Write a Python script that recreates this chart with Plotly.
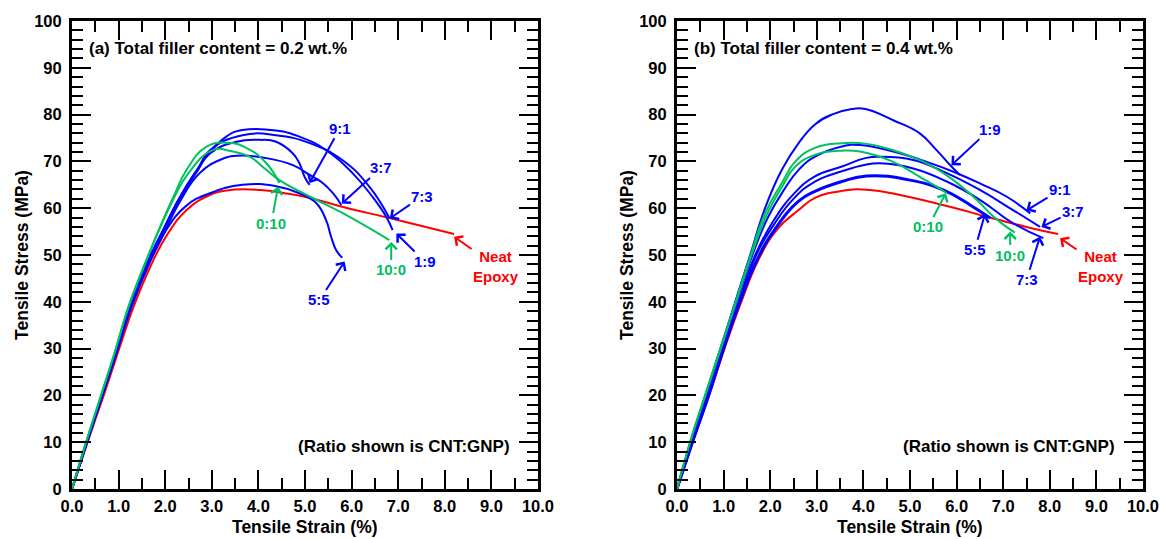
import plotly.graph_objects as go

BLUE = "#0000FF"
GREEN = "#00C060"
RED = "#FF0000"

# ---------------- Panel (a): 0.2 wt.% ----------------
a_neat_x = [0, 0.32, 0.68, 1.0, 1.32, 1.68, 2.04, 2.46, 2.89, 3.32, 4.04, 4.38, 5.1, 5.8, 6.81, 8.2]
a_neat_y = [0, 9.6, 20, 29.6, 38.9, 47.5, 54.3, 59.6, 62.5, 63.8, 63.9, 63.5, 62.2, 60.3, 57.9, 54.5]

a_55_x = [0, 0.3, 0.66, 0.98, 1.3, 1.65, 2.0, 2.45, 2.96, 3.66, 4.38, 4.88, 5.24, 5.45, 5.56, 5.67, 5.8]
a_55_y = [0, 9.8, 20.2, 30, 39.5, 48, 55, 60.5, 63.2, 65, 64.7, 63.2, 61.1, 57.5, 53.9, 51, 49.4]

a_19_x = [0, 0.31, 0.64, 0.96, 1.25, 1.54, 1.89, 2.32, 2.68, 2.88, 3.31, 3.66, 4.38, 4.88, 5.45, 6.02, 6.45, 6.74, 6.88]
a_19_y = [0, 9.7, 19.8, 29.7, 39.6, 46.8, 54, 62.5, 68.2, 71, 75.3, 76.7, 76.6, 75.3, 72.4, 67.5, 62.4, 58.2, 55.3]

a_73_x = [0, 0.31, 0.64, 0.96, 1.25, 1.54, 1.89, 2.32, 2.68, 2.96, 3.66, 4.38, 5.1, 5.8, 6.38, 6.81]
a_73_y = [0, 9.7, 19.8, 29.7, 39.6, 46.8, 54, 62.3, 67.9, 72.4, 75.6, 75.6, 73.9, 70.3, 64.6, 57.9]

a_91_x = [0, 0.31, 0.64, 0.96, 1.25, 1.54, 1.89, 2.32, 2.68, 2.96, 3.53, 4.03, 4.38, 4.74, 4.88, 5.0, 5.1]
a_91_y = [0, 9.7, 19.8, 29.7, 39.6, 46.8, 54, 62.2, 67.8, 71.7, 74.2, 74.6, 74.2, 71.7, 69.6, 66.5, 65]

a_37_x = [0, 0.31, 0.64, 0.97, 1.27, 1.57, 1.92, 2.32, 2.74, 3.17, 3.53, 4.17, 4.74, 5.1, 5.38, 5.6, 5.78]
a_37_y = [0, 9.6, 19.6, 29.5, 39.2, 46.5, 53.5, 61.5, 67.5, 70.3, 71.2, 70.7, 69.2, 67.1, 65.4, 63.2, 60.7]

a_010_x = [0, 0.29, 0.61, 0.93, 1.21, 1.54, 1.89, 2.18, 2.46, 2.88, 3.31, 3.74, 4.17, 4.45]
a_010_y = [0, 9.6, 19.6, 29.6, 38.9, 47.5, 56, 62.5, 68.2, 73.1, 74, 72.9, 69.6, 65.4]

a_100_x = [0, 0.29, 0.61, 0.93, 1.21, 1.54, 1.89, 2.18, 2.5, 3.02, 3.45, 3.81, 4.17, 4.45, 5.1, 5.8, 6.81]
a_100_y = [0, 9.6, 19.6, 29.6, 38.9, 47.5, 55.8, 62, 67.5, 72.4, 72.1, 71, 68.2, 66, 62.5, 59, 53.2]

# ---------------- Panel (b): 0.4 wt.% ----------------
b_neat_x = [0, 0.34, 0.69, 1.02, 1.38, 1.75, 2.15, 2.61, 2.96, 3.54, 4.14, 5.57, 6.79, 7.5, 8.18]
b_neat_y = [0, 10, 20, 30, 40, 49, 55.5, 59.6, 62.2, 63.7, 63.9, 61, 57.8, 56, 54.5]

b_19_x = [0, 0.29, 0.61, 0.93, 1.25, 1.57, 1.89, 2.25, 2.61, 2.96, 3.32, 3.75, 4.04, 4.64, 5.21, 5.57, 5.89, 6.07]
b_19_y = [0, 10, 20, 30, 40, 50, 60, 68.2, 73.9, 77.9, 80, 81.2, 81.2, 78.8, 76, 72.4, 68.9, 67.1]

b_100_x = [0, 0.28, 0.6, 0.93, 1.26, 1.58, 1.89, 2.25, 2.54, 2.96, 3.54, 4.04, 4.64, 5.36, 5.93, 6.43, 6.79, 7.07, 7.25]
b_100_y = [0, 10, 20, 30, 40, 50, 58.9, 65.4, 70, 72.9, 73.9, 73.8, 72.4, 69.6, 66, 61.8, 58.2, 56, 54.8]

b_010_x = [0, 0.28, 0.61, 0.94, 1.27, 1.6, 1.92, 2.25, 2.54, 2.96, 3.54, 3.93, 4.64, 5.21, 5.57, 5.79]
b_010_y = [0, 10, 20, 30, 40, 50, 58.5, 64.5, 68.9, 71.4, 72.3, 72.1, 69.9, 66.7, 64.6, 63.2]

b_91_x = [0, 0.31, 0.64, 0.96, 1.28, 1.62, 1.95, 2.3, 2.61, 2.96, 3.54, 3.93, 4.64, 5.36, 5.93, 6.5, 7.07, 7.58]
b_91_y = [0, 10, 20, 30, 40, 50, 58, 64, 68.2, 71, 73.2, 73.5, 72.1, 69.9, 67.8, 65.3, 62.5, 58.9]

b_37_x = [0, 0.32, 0.66, 0.99, 1.32, 1.68, 2.05, 2.5, 2.96, 3.54, 4.04, 4.36, 5.07, 5.79, 6.5, 7.21, 7.79]
b_37_y = [0, 10, 20, 30, 40, 50, 57, 63, 66.8, 68.9, 70.7, 71, 70.3, 67.5, 63.9, 59.6, 56]

b_73_x = [0, 0.33, 0.67, 1.0, 1.34, 1.7, 2.08, 2.5, 2.96, 3.54, 4.04, 4.36, 5.07, 5.79, 6.5, 7.21, 7.86]
b_73_y = [0, 10, 20, 30, 40, 50, 56.5, 62, 65.7, 67.9, 69.3, 69.6, 68.5, 65.7, 61.8, 56.8, 53.6]

b_55_x = [0, 0.33, 0.68, 1.0, 1.35, 1.72, 2.1, 2.61, 2.96, 3.54, 4.07, 5.0, 5.71, 6.29, 6.72]
b_55_y = [0, 10, 20, 30, 40, 49, 55.5, 61.5, 63.6, 65.7, 66.9, 66, 63.9, 60.7, 57.9]

# Annotations: (text, point x, point y, text x, text y, color)
a_labels = [
    ("9:1", 5.1, 65.4, 5.75, 77.1, BLUE),
    ("3:7", 5.79, 61.0, 6.63, 68.6, BLUE),
    ("7:3", 6.82, 57.8, 7.52, 62.6, BLUE),
    ("1:9", 6.96, 54.6, 7.57, 48.6, BLUE),
    ("5:5", 5.85, 48.6, 5.31, 40.4, BLUE),
    ("0:10", 4.42, 64.6, 4.28, 56.8, GREEN),
    ("10:0", 6.85, 52.8, 6.85, 46.8, GREEN),
    ("Neat<br>Epoxy", 8.2, 53.9, 9.1, 47.6, RED),
]
b_labels = [
    ("1:9", 5.89, 69.2, 6.72, 76.9, BLUE),
    ("9:1", 7.5, 59.5, 8.22, 63.9, BLUE),
    ("3:7", 7.82, 56.0, 8.5, 59.3, BLUE),
    ("7:3", 7.79, 53.9, 7.5, 44.7, BLUE),
    ("5:5", 6.61, 58.8, 6.39, 51.1, BLUE),
    ("0:10", 5.77, 63.2, 5.39, 56.0, GREEN),
    ("10:0", 7.15, 55.0, 7.15, 50.0, GREEN),
    ("Neat<br>Epoxy", 8.22, 53.6, 9.1, 47.6, RED),
]

a_curves = [
    (a_neat_x, a_neat_y, RED, "Neat Epoxy"),
    (a_55_x, a_55_y, BLUE, "5:5"),
    (a_37_x, a_37_y, BLUE, "3:7"),
    (a_91_x, a_91_y, BLUE, "9:1"),
    (a_73_x, a_73_y, BLUE, "7:3"),
    (a_19_x, a_19_y, BLUE, "1:9"),
    (a_100_x, a_100_y, GREEN, "10:0"),
    (a_010_x, a_010_y, GREEN, "0:10"),
]
b_curves = [
    (b_neat_x, b_neat_y, RED, "Neat Epoxy"),
    (b_55_x, b_55_y, BLUE, "5:5"),
    (b_73_x, b_73_y, BLUE, "7:3"),
    (b_37_x, b_37_y, BLUE, "3:7"),
    (b_91_x, b_91_y, BLUE, "9:1"),
    (b_19_x, b_19_y, BLUE, "1:9"),
    (b_100_x, b_100_y, GREEN, "10:0"),
    (b_010_x, b_010_y, GREEN, "0:10"),
]

FONT = "Arial, Liberation Sans, sans-serif"
XDOM1 = [72 / 1161, 538 / 1161]
XDOM2 = [677 / 1161, 1143 / 1161]

fig = go.Figure()
for curves, xa, ya in [(a_curves, "x", "y"), (b_curves, "x2", "y2")]:
    for xs, ys, col, name in curves:
        w = 3 if (xa == "x2" and name == "5:5") else 2
        fig.add_trace(go.Scatter(x=xs, y=ys, mode="lines", name=name,
                                 line=dict(color=col, width=w, shape="spline", smoothing=1.3),
                                 xaxis=xa, yaxis=ya, showlegend=False, hoverinfo="skip"))

annotations = []
for labels, xr, yr in [(a_labels, "x", "y"), (b_labels, "x2", "y2")]:
    for text, px, py, tx, ty, col in labels:
        annotations.append(dict(
            x=px, y=py, ax=tx, ay=ty, xref=xr, yref=yr, axref=xr, ayref=yr,
            text=text, showarrow=True, arrowhead=4, arrowsize=1.1, arrowwidth=2,
            arrowcolor=col, standoff=0, startstandoff=0,
            font=dict(family=FONT, size=15, color=col, weight="bold")))

annotations.append(dict(x=0.32, y=94.2, xref="x", yref="y", text="(a) Total filler content = 0.2 wt.%",
                        showarrow=False, xanchor="left", yanchor="middle",
                        font=dict(family=FONT, size=17, color="black", weight="bold")))
annotations.append(dict(x=0.32, y=94.2, xref="x2", yref="y2", text="(b) Total filler content = 0.4 wt.%",
                        showarrow=False, xanchor="left", yanchor="middle",
                        font=dict(family=FONT, size=17, color="black", weight="bold")))
for xr, yr in [("x", "y"), ("x2", "y2")]:
    annotations.append(dict(x=9.44, y=9.0, xref=xr, yref=yr, text="(Ratio shown is CNT:GNP)",
                            showarrow=False, xanchor="right", yanchor="middle",
                            font=dict(family=FONT, size=17, color="black", weight="bold")))
# x-axis titles
for dom in (XDOM1, XDOM2):
    annotations.append(dict(x=(dom[0] + dom[1]) / 2, y=(539 - 527) / 539, xref="paper", yref="paper",
                            text="Tensile Strain (%)", showarrow=False,
                            xanchor="center", yanchor="middle",
                            font=dict(family=FONT, size=17.5, color="black", weight="bold")))

ydom = [50 / 539, 518 / 539]

def xaxis(domain, anchor):
    return dict(domain=domain, anchor=anchor, range=[0, 10], dtick=1, tick0=0, tickformat=".1f",
                automargin=False,
                showline=True, linewidth=3, linecolor="black", mirror="allticks",
                ticks="inside", ticklen=19, tickwidth=2, tickcolor="black",
                minor=dict(dtick=0.5, ticks="inside", ticklen=11, tickwidth=2, tickcolor="black"),
                showgrid=False, zeroline=False, ticklabelstandoff=0,
                tickfont=dict(family=FONT, size=16.5, color="black", weight="bold"))

def yaxis(anchor):
    return dict(domain=ydom, anchor=anchor, range=[0, 100], dtick=10, tick0=0,
                automargin=False,
                showline=True, linewidth=3, linecolor="black", mirror="allticks",
                ticks="inside", ticklen=19, tickwidth=2, tickcolor="black",
                minor=dict(dtick=2, ticks="inside", ticklen=11, tickwidth=2, tickcolor="black"),
                showgrid=False, zeroline=False, ticklabelstandoff=4,
                tickfont=dict(family=FONT, size=16.5, color="black", weight="bold"),
                title=dict(text="Tensile Stress (MPa)", standoff=2,
                           font=dict(family=FONT, size=17.5, color="black", weight="bold")))

fig.update_layout(
    width=1161, height=539,
    margin=dict(l=0, r=0, t=0, b=0),
    paper_bgcolor="white", plot_bgcolor="white",
    xaxis=xaxis(XDOM1, "y"),
    yaxis=yaxis("x"),
    xaxis2=xaxis(XDOM2, "y2"),
    yaxis2=yaxis("x2"),
    annotations=annotations,
)

fig.write_html("out.html")
